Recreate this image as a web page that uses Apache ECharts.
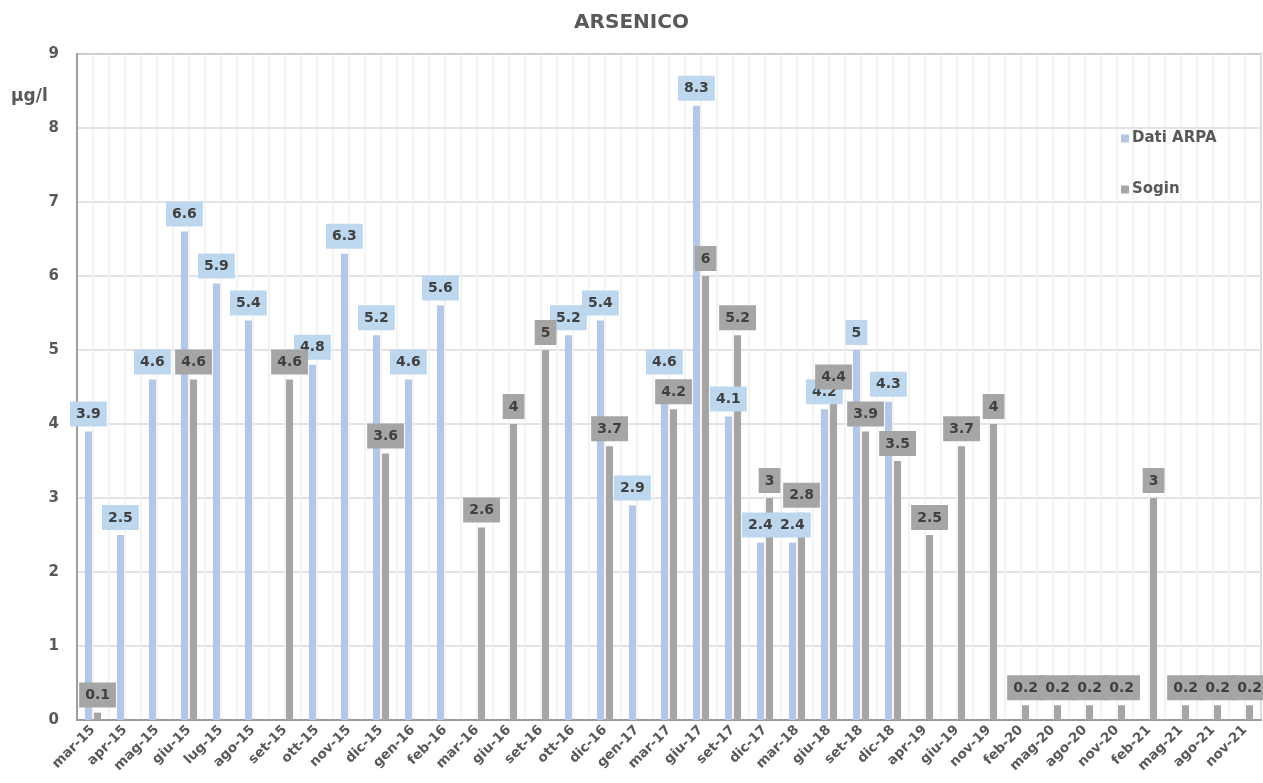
<!DOCTYPE html>
<html>
<head>
<meta charset="utf-8">
<script src="https://cdn.jsdelivr.net/npm/echarts@6/dist/echarts.min.js"></script>
<style>
  html, body { margin: 0; padding: 0; background: #fff; }
  #chart { width: 1263px; height: 783px; }
</style>
</head>
<body>
<div id="chart"></div>
<script>
const categories = ['mar-15','apr-15','mag-15','giu-15','lug-15','ago-15','set-15','ott-15','nov-15','dic-15','gen-16','feb-16','mar-16','giu-16','set-16','ott-16','dic-16','gen-17','mar-17','giu-17','set-17','dic-17','mar-18','giu-18','set-18','dic-18','apr-19','giu-19','nov-19','feb-20','mag-20','ago-20','nov-20','feb-21','mag-21','ago-21','nov-21'];
const datiARPA = [3.9,2.5,4.6,6.6,5.9,5.4,null,4.8,6.3,5.2,4.6,5.6,null,null,null,5.2,5.4,2.9,4.6,8.3,4.1,2.4,2.4,4.2,5,4.3,null,null,null,null,null,null,null,null,null,null,null];
const sogin = [0.1,null,null,4.6,null,null,4.6,null,null,3.6,null,null,2.6,4,5,null,3.7,null,4.2,6,5.2,3,2.8,4.4,3.9,3.5,2.5,3.7,4,0.2,0.2,0.2,0.2,3,0.2,0.2,0.2];
const yTicks = [0,1,2,3,4,5,6,7,8,9];

const FONT = 'DejaVu Sans';
const TXT = '#595959';
const minorCats = [];
categories.forEach(c => { minorCats.push(c + 'a'); minorCats.push(c + 'b'); });

const chart = echarts.init(document.getElementById('chart'));
chart.setOption({
  animation: false,
  backgroundColor: '#ffffff',
  textStyle: { fontFamily: FONT },
  title: {
    text: 'ARSENICO', left: 'center', top: 8,
    textStyle: { fontFamily: FONT, fontSize: 20, fontWeight: 'bold', color: TXT }
  },
  legend: {
    orient: 'vertical', left: 1116, top: 126, itemGap: 36,
    itemWidth: 8, itemHeight: 8, icon: 'rect',
    textStyle: { fontFamily: FONT, fontSize: 15, fontWeight: 'bold', color: TXT, padding: [0,0,0,-2] },
    data: ['Dati ARPA', 'Sogin']
  },
  graphic: [{
    type: 'text', left: 11, top: 88,
    style: { text: 'µg/l', fontFamily: FONT, fontSize: 17, fontWeight: 'bold', fill: TXT }
  }],
  grid: { left: 77, right: 2, top: 54, bottom: 63, show: true, borderColor: '#898989', borderWidth: 1.5, backgroundColor: 'transparent' },
  xAxis: [{
    type: 'category', data: categories, boundaryGap: true,
    axisLine: { show: true, lineStyle: { color: '#898989', width: 1.5 } },
    axisTick: { show: false },
    splitLine: { show: false },
    axisLabel: { interval: 0, rotate: 45, fontFamily: FONT, fontSize: 13.5, fontWeight: 'bold', color: TXT, margin: 8 }
  }, {
    type: 'category', data: minorCats, boundaryGap: true, position: 'bottom',
    axisLine: { show: false }, axisTick: { show: false }, axisLabel: { show: false },
    splitLine: { show: true, interval: 0, lineStyle: { color: '#EFEFEF', width: 1.5 } }
  }],
  yAxis: {
    type: 'value', min: 0, max: 9, interval: 1,
    axisLine: { show: true, lineStyle: { color: '#898989', width: 1.5 } },
    axisTick: { show: false },
    splitLine: { show: true, lineStyle: { color: '#D9D9D9', width: 1.5 } },
    axisLabel: { fontFamily: FONT, fontSize: 15, fontWeight: 'bold', color: TXT, margin: 18,
      formatter: v => yTicks.includes(v) ? String(v) : '' }
  },
  series: [{
    name: 'Dati ARPA', type: 'bar', xAxisIndex: 0, data: datiARPA,
    barWidth: 7, barGap: '30%',
    itemStyle: { color: '#B4C7E7' },
    label: {
      show: true, position: 'top', distance: 5,
      fontFamily: FONT, fontSize: 14, fontWeight: 'bold', color: '#404040',
      backgroundColor: '#BDD7EE', padding: [6, 6, 5, 6],
      formatter: p => p.value == null ? '' : String(p.value)
    }
  }, {
    name: 'Sogin', type: 'bar', xAxisIndex: 0, data: sogin,
    barWidth: 7, barGap: '30%',
    itemStyle: { color: '#A5A5A5' },
    label: {
      show: true, position: 'top', distance: 5,
      fontFamily: FONT, fontSize: 14, fontWeight: 'bold', color: '#404040',
      backgroundColor: '#A5A5A5', padding: [6, 6, 5, 6],
      formatter: p => p.value == null ? '' : String(p.value)
    }
  }]
});
</script>
</body>
</html>
